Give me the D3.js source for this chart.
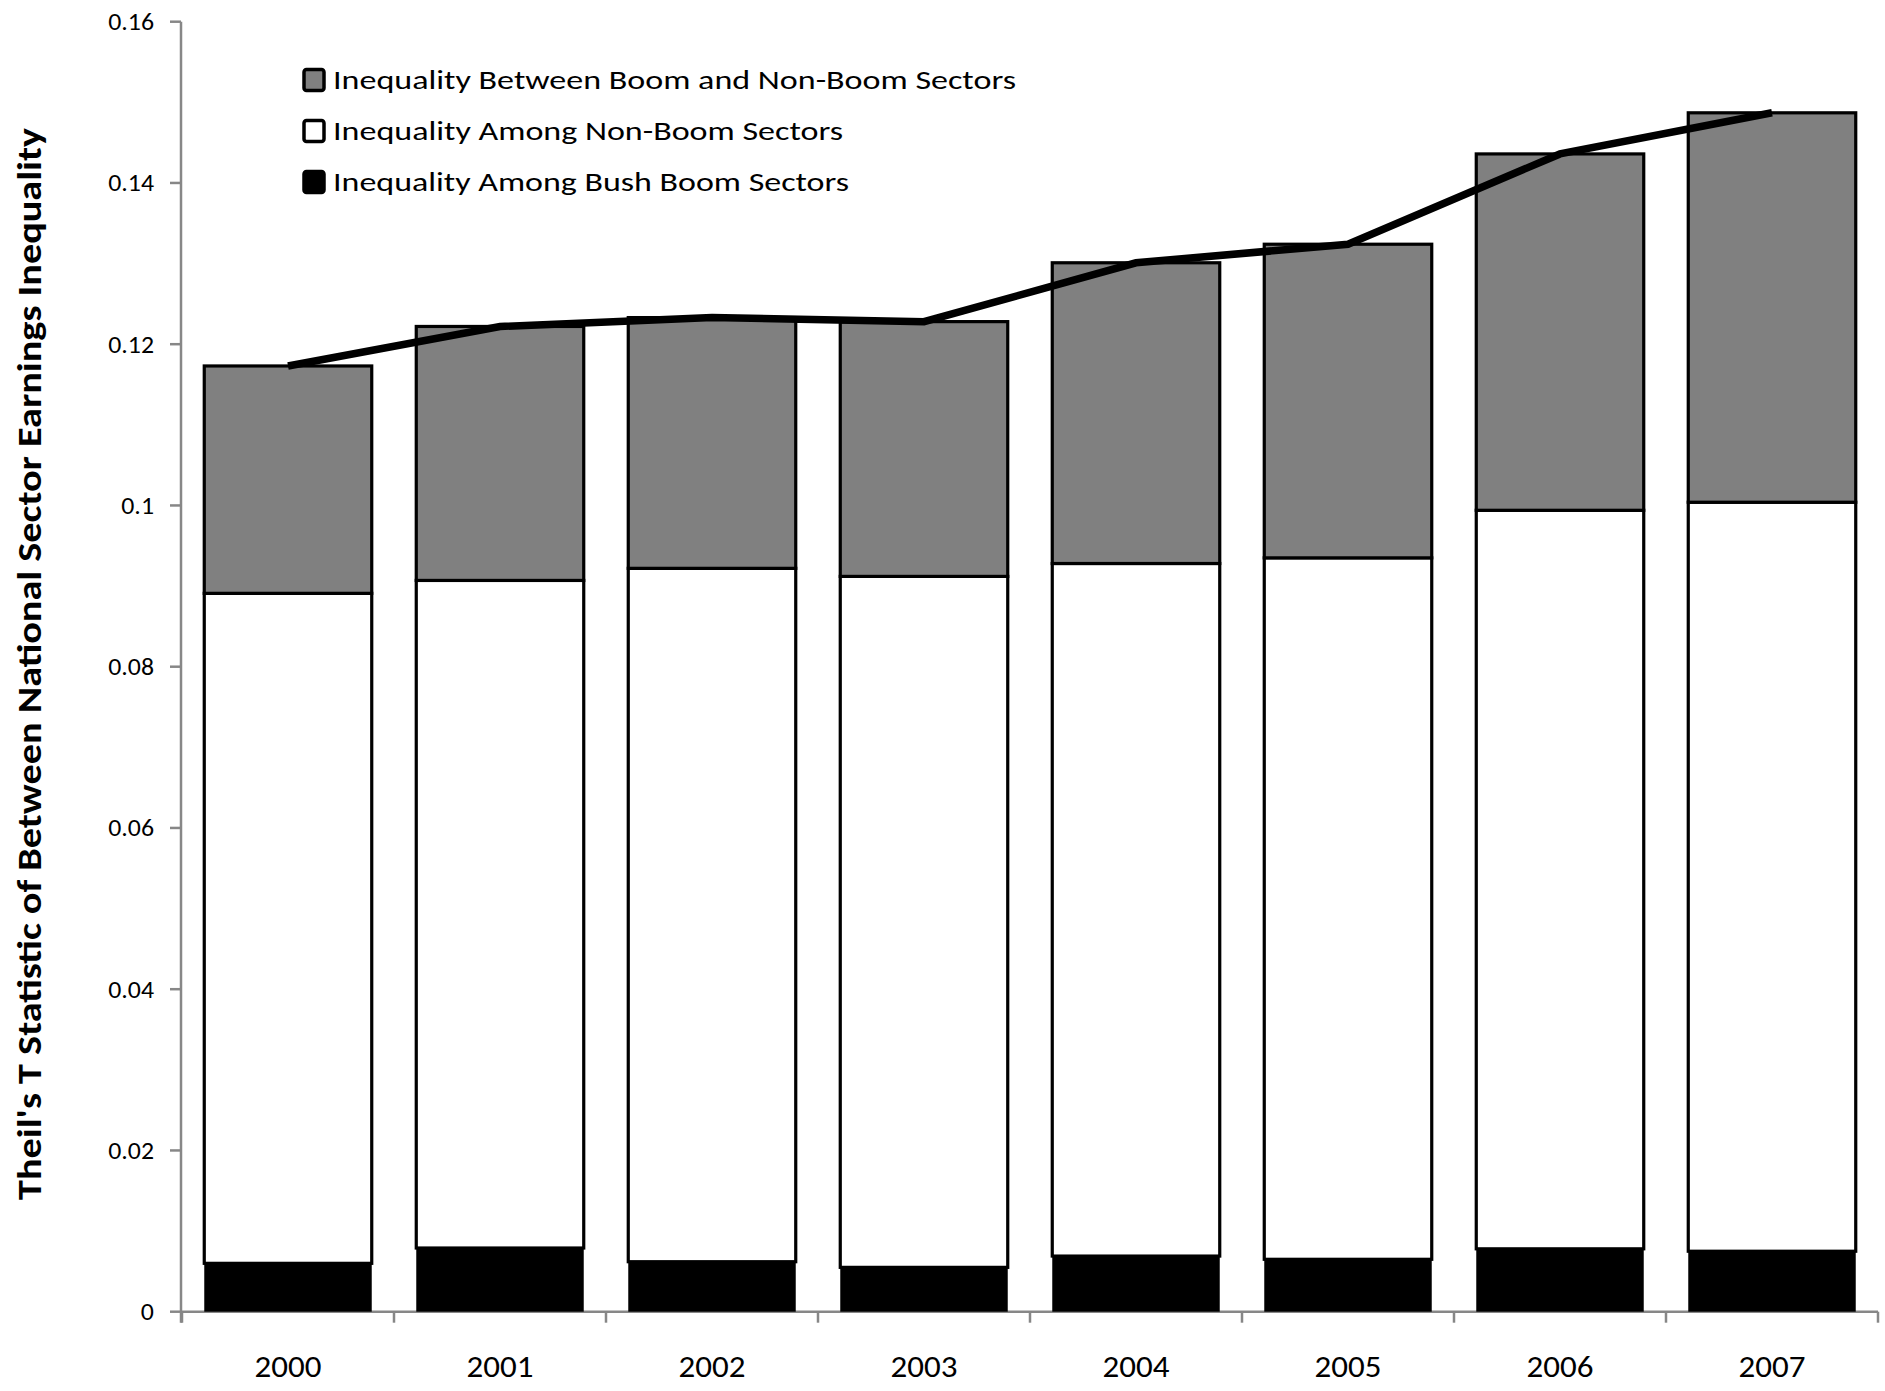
<!DOCTYPE html>
<html>
<head>
<meta charset="utf-8">
<script src="https://cdn.jsdelivr.net/npm/d3@7"></script>
<style>
  html, body { margin: 0; padding: 0; background: #fff; }
  svg { display: block; font-family: Carlito, Lato, "Open Sans", sans-serif; }
</style>
</head>
<body>
<svg id="chart" width="1885" height="1391"></svg>
<script>
// Theil's T decomposition by year
const years = ["2000", "2001", "2002", "2003", "2004", "2005", "2006", "2007"];
const amongBushBoom = [0.0060, 0.0079, 0.0062, 0.0055, 0.0069, 0.0065, 0.0078, 0.0075];
const amongNonBoom  = [0.0831, 0.0828, 0.0860, 0.0857, 0.0859, 0.0870, 0.0916, 0.0929];
const betweenBoom   = [0.0282, 0.0315, 0.0311, 0.0316, 0.0373, 0.0389, 0.0442, 0.0483];

const seriesNames = [
  "Inequality Between Boom and Non-Boom Sectors",
  "Inequality Among Non-Boom Sectors",
  "Inequality Among Bush Boom Sectors"
];
const yTicks = [0, 0.02, 0.04, 0.06, 0.08, 0.1, 0.12, 0.14, 0.16];
const yTickLabels = ["0", "0.02", "0.04", "0.06", "0.08", "0.1", "0.12", "0.14", "0.16"];
const yTitle = "Theil's T Statistic of Between National Sector Earnings Inequality";

const svg = d3.select("#chart");
const axisColor = "#878787";

const x = d3.scaleBand().domain(years).range([182, 1878]).paddingInner(0.21).paddingOuter(0.105);
const y = d3.scaleLinear().domain([0, 0.16]).range([1311.7, 21.7]);

// stack: bottom = bush boom, middle = non-boom, top = between
const rows = years.map((yr, i) => ({
  year: yr,
  bush: amongBushBoom[i],
  nonBoom: amongNonBoom[i],
  between: betweenBoom[i]
}));
const keys = ["bush", "nonBoom", "between"];
const fills = { bush: "#000000", nonBoom: "#ffffff", between: "#808080" };
const stacked = d3.stack().keys(keys)(rows);

// axes (drawn first so bars sit above)
const gx = svg.append("g");
const step = x.step();
gx.append("line")
  .attr("x1", 182).attr("x2", 1878)
  .attr("y1", y(0)).attr("y2", y(0))
  .attr("stroke", axisColor).attr("stroke-width", 2.5);
const boundaries = years.map(d => x(d) - step * x.paddingInner() / 2).concat([1878]);
boundaries[0] = 182;
gx.selectAll("line.xt").data(boundaries).join("line")
  .attr("class", "xt")
  .attr("x1", d => d).attr("x2", d => d)
  .attr("y1", y(0)).attr("y2", y(0) + 11)
  .attr("stroke", axisColor).attr("stroke-width", 2.5);
gx.selectAll("text").data(years).join("text")
  .attr("x", d => x(d) + x.bandwidth() / 2)
  .attr("y", 1377)
  .attr("text-anchor", "middle")
  .attr("font-size", 30)
  .attr("fill", "#000")
  .text(d => d)
  .each(function () {
    const len = this.getComputedTextLength();
    d3.select(this).attr("textLength", len * 1.1).attr("lengthAdjust", "spacingAndGlyphs");
  });

const gy = svg.append("g");
gy.append("line")
  .attr("x1", 181).attr("x2", 181)
  .attr("y1", y(0.16)).attr("y2", y(0) + 11)
  .attr("stroke", axisColor).attr("stroke-width", 2.5);
gy.selectAll("line.yt").data(yTicks).join("line")
  .attr("class", "yt")
  .attr("x1", 170).attr("x2", 181)
  .attr("y1", d => y(d)).attr("y2", d => y(d))
  .attr("stroke", axisColor).attr("stroke-width", 2.5);
gy.selectAll("text").data(yTicks).join("text")
  .attr("x", 154)
  .attr("y", d => y(d))
  .attr("dy", "0.36em")
  .attr("text-anchor", "end")
  .attr("font-size", 23.5)
  .attr("fill", "#000")
  .text((d, i) => yTickLabels[i])
  .each(function () {
    const len = this.getComputedTextLength();
    d3.select(this).attr("textLength", len * 1.1).attr("lengthAdjust", "spacingAndGlyphs");
  });

// bars
const gb = svg.append("g");
stacked.forEach(layer => {
  gb.selectAll(null).data(layer).join("rect")
    .attr("x", d => x(d.data.year))
    .attr("width", x.bandwidth())
    .attr("y", d => y(d[1]))
    .attr("height", d => y(d[0]) - y(d[1]))
    .attr("fill", fills[layer.key])
    .attr("stroke", layer.key === "bush" ? "none" : "#000")
    .attr("stroke-width", 3.2);
});

// total line through the stack tops
const totals = rows.map(r => ({ year: r.year, v: r.bush + r.nonBoom + r.between }));
svg.append("path")
  .datum(totals)
  .attr("fill", "none")
  .attr("stroke", "#000")
  .attr("stroke-width", 7.5)
  .attr("d", d3.line().x(d => x(d.year) + x.bandwidth() / 2).y(d => y(d.v)));

// legend
const legendKeys = ["between", "nonBoom", "bush"];
const legendWidths = [683, 510, 516];
const lg = svg.append("g");
legendKeys.forEach((k, i) => {
  const cy = 80 + i * 51;
  lg.append("rect")
    .attr("x", 304).attr("y", cy - 10.5)
    .attr("width", 20).attr("height", 21)
    .attr("rx", 2.5)
    .attr("fill", fills[k])
    .attr("stroke", "#000").attr("stroke-width", 3.5);
  lg.append("text")
    .attr("x", 333).attr("y", cy + 9)
    .attr("font-size", 27)
    .attr("fill", "#000")
    .attr("textLength", legendWidths[i])
    .attr("lengthAdjust", "spacingAndGlyphs")
    .text(seriesNames[i]);
});

// y-axis title
svg.append("text")
  .attr("transform", "translate(41,1200) rotate(-90)")
  .attr("font-size", 35)
  .attr("font-weight", "bold")
  .attr("fill", "#000")
  .attr("textLength", 1072)
  .attr("lengthAdjust", "spacingAndGlyphs")
  .text(yTitle);
</script>
</body>
</html>
